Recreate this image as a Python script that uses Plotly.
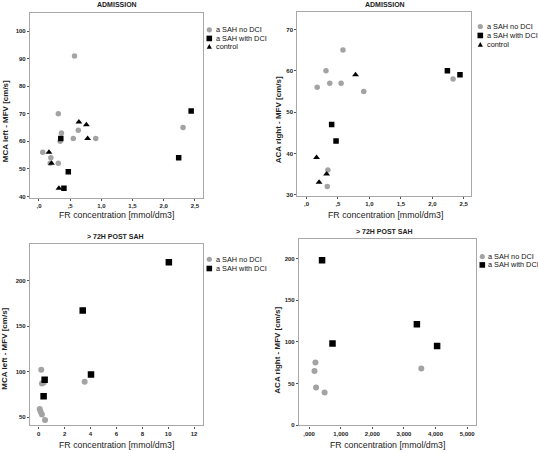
import plotly.graph_objects as go

W, H = 538, 453

# ---------- data ----------
# Panel 1: MCA left, admission
nodci_x1 = [0.57, 0.31, 0.36, 0.63, 0.55, 0.91, 0.34, 0.06, 0.19, 0.31, 0.18, 2.31]
nodci_y1 = [91, 70, 63, 64, 61, 61, 60, 56, 54, 52, 52, 65]
dci_x1 = [0.35, 0.47, 0.40, 2.44, 2.24]
dci_y1 = [61, 49, 43, 71, 54]
ctrl_x1 = [0.64, 0.76, 0.78, 0.16, 0.20, 0.32]
ctrl_y1 = [67, 66, 61, 56, 52, 43]

# Panel 2: ACA right, admission
nodci_x2 = [0.58, 0.31, 0.37, 0.55, 0.17, 0.91, 0.34, 0.33, 2.33]
nodci_y2 = [65, 60, 57, 57, 56, 55, 36, 32, 58]
dci_x2 = [0.40, 0.47, 2.24, 2.44]
dci_y2 = [47, 43, 60, 59]
ctrl_x2 = [0.78, 0.16, 0.32, 0.20]
ctrl_y2 = [59, 39, 35, 33]

# Panel 3: MCA left, > 72H post SAH
nodci_x3 = [0.20, 0.25, 0.39, 3.55, 0.08, 0.15, 0.25, 0.49]
nodci_y3 = [102, 87, 88, 89, 59, 56, 53, 47]
dci_x3 = [10.05, 3.40, 4.04, 0.46, 0.38]
dci_y3 = [220, 167, 97, 91, 73]

# Panel 4: ACA right, > 72H post SAH
nodci_x4 = [0.20, 0.17, 0.22, 0.49, 3.55]
nodci_y4 = [75, 65, 45, 39, 68]
dci_x4 = [0.41, 0.74, 3.41, 4.05]
dci_y4 = [198, 98, 121, 95]

# tick labels
xt_adm_vals = [0, 0.5, 1, 1.5, 2, 2.5]
xt_adm_text = [",0", ",5", "1,0", "1,5", "2,0", "2,5"]
xt_p3_vals = [0, 2, 4, 6, 8, 10, 12]
xt_p4_vals = [0, 1, 2, 3, 4, 5]
xt_p4_text = [",000", "1,000", "2,000", "3,000", "4,000", "5,000"]
yt_p1 = [40, 50, 60, 70, 80, 90, 100]
yt_p2 = [30, 40, 50, 60, 70]
yt_p3 = [50, 100, 150, 200]
yt_p4 = [0, 50, 100, 150, 200]

legend_labels = ["a SAH no DCI", "a SAH with DCI", "control"]
titles = ["ADMISSION", "ADMISSION", "> 72H POST SAH", "> 72H POST SAH"]
ytitles = ["MCA left - MFV [cm/s]", "ACA right - MFV [cm/s]",
           "MCA left - MFV [cm/s]", "ACA right - MFV [cm/s]"]
xtitle = "FR concentration [mmol/dm3]"

GRAY = "#a3a3a3"
FRAME = "#a8a8a8"
FONT = "Arial, Liberation Sans, sans-serif"

def px(x):
    return x / W

def py(y):
    return 1 - y / H

def bold(lst):
    return ["<b>%s</b>" % s for s in lst]

fig = go.Figure()

def add(xs, ys, kind, k):
    ax = "" if k == 1 else str(k)
    if kind == "c":
        m = dict(symbol="circle", color=GRAY, size=5.5 if k <= 2 else 6)
    elif kind == "s":
        m = dict(symbol="square", color="black", size=5.5 if k <= 2 else 6.5)
    else:
        m = dict(symbol="triangle-up", color="black", size=6)
    fig.add_trace(go.Scatter(x=xs, y=ys, mode="markers", marker=m,
                             xaxis="x" + ax, yaxis="y" + ax,
                             showlegend=False, hoverinfo="x+y"))

add(nodci_x1, nodci_y1, "c", 1); add(dci_x1, dci_y1, "s", 1); add(ctrl_x1, ctrl_y1, "t", 1)
add(nodci_x2, nodci_y2, "c", 2); add(dci_x2, dci_y2, "s", 2); add(ctrl_x2, ctrl_y2, "t", 2)
add(nodci_x3, nodci_y3, "c", 3); add(dci_x3, dci_y3, "s", 3)
add(nodci_x4, nodci_y4, "c", 4); add(dci_x4, dci_y4, "s", 4)

# plot frames in pixels (left, right, top, bottom)
frames = [(30, 203, 13, 199), (297.3, 471.3, 11.7, 197.3),
          (30, 203.3, 245.3, 428.3), (299, 476.3, 241, 428.3)]
xranges = [[-0.144, 2.63], [-0.146, 2.62], [-0.67, 12.71], [-0.32, 5.29]]
yranges = [[39.55, 106.6], [29.7, 74.3], [41, 240.3], [-0.5, 223]]
xticks = [(xt_adm_vals, xt_adm_text), (xt_adm_vals, xt_adm_text),
          (xt_p3_vals, [str(v) for v in xt_p3_vals]), (xt_p4_vals, xt_p4_text)]
yticks = [yt_p1, yt_p2, yt_p3, yt_p4]

tickfont = dict(family=FONT, size=6, color="#222")
layout = {}
for i in range(4):
    k = "" if i == 0 else str(i + 1)
    l, r, t, b = frames[i]
    common = dict(showline=True, linecolor=FRAME, linewidth=1.2, mirror=True,
                  ticks="outside", ticklen=2, tickcolor="#555", tickwidth=1,
                  showgrid=False, zeroline=False, tickfont=tickfont)
    layout["xaxis" + k] = dict(domain=[px(l), px(r)], range=xranges[i],
                               anchor="y" + k, tickmode="array",
                               tickvals=xticks[i][0], ticktext=bold(xticks[i][1]), **common)
    layout["yaxis" + k] = dict(domain=[py(b), py(t)], range=yranges[i],
                               anchor="x" + k, tickmode="array",
                               tickvals=yticks[i], ticktext=bold([str(v) for v in yticks[i]]),
                               **common)

annotations = []
# panel titles
for (x, y), txt in zip([(116.7, 4.5), (385.3, 4.5), (115.3, 238.3), (384.7, 233.3)], titles):
    annotations.append(dict(x=px(x), y=py(y), xref="paper", yref="paper", text="<b>" + txt + "</b>",
                            showarrow=False, font=dict(family=FONT, size=7, color="#222"),
                            xanchor="center", yanchor="middle"))
# y titles
for (x, y), txt in zip([(5, 122), (278, 121), (5, 351), (277.3, 352.7)], ytitles):
    annotations.append(dict(x=px(x), y=py(y), xref="paper", yref="paper", text="<b>" + txt + "</b>",
                            showarrow=False, textangle=-90,
                            font=dict(family=FONT, size=8, color="#222"),
                            xanchor="center", yanchor="middle"))
# x titles
for (x, y) in [(116.2, 216.5), (385.5, 216.5), (116.7, 447.5), (387.2, 447.5)]:
    annotations.append(dict(x=px(x), y=py(y), xref="paper", yref="paper", text=xtitle,
                            showarrow=False, font=dict(family=FONT, size=8.8, color="#222"),
                            xanchor="center", yanchor="middle"))

# legends (manual)
legends = [((209.3, 214.3), [30, 38.7, 47]),
           ((480.3, 485.3), [26.7, 35.7, 45]),
           ((209.3, 214.3), [261, 270.3]),
           ((482.3, 486.3), [258.3, 266.7])]
shapes = []
for (mx, tx), rows in legends:
    for j, yy in enumerate(rows):
        annotations.append(dict(x=px(tx), y=py(yy), xref="paper", yref="paper",
                                text=legend_labels[j], showarrow=False,
                                font=dict(family=FONT, size=7.3, color="#111"),
                                xanchor="left", yanchor="middle"))
        base = dict(xref="paper", yref="paper", xsizemode="pixel", ysizemode="pixel",
                    xanchor=px(mx), yanchor=py(yy), line=dict(width=0))
        if j == 0:
            shapes.append(dict(type="circle", x0=-2.6, x1=2.6, y0=-2.6, y1=2.6,
                               fillcolor=GRAY, **base))
        elif j == 1:
            shapes.append(dict(type="rect", x0=-2.8, x1=2.8, y0=-2.8, y1=2.8,
                               fillcolor="black", **base))
        else:
            shapes.append(dict(type="path", path="M -2.6 -2 L 2.6 -2 L 0 2.8 Z",
                               fillcolor="black", **base))

fig.update_layout(width=W, height=H, margin=dict(l=0, r=0, t=0, b=0),
                  paper_bgcolor="white", plot_bgcolor="white",
                  font=dict(family=FONT), annotations=annotations, shapes=shapes,
                  **layout)

fig.write_html("out.html", config={"displayModeBar": False},
               post_script="document.body.style.margin='0';document.body.style.overflow='hidden';")
